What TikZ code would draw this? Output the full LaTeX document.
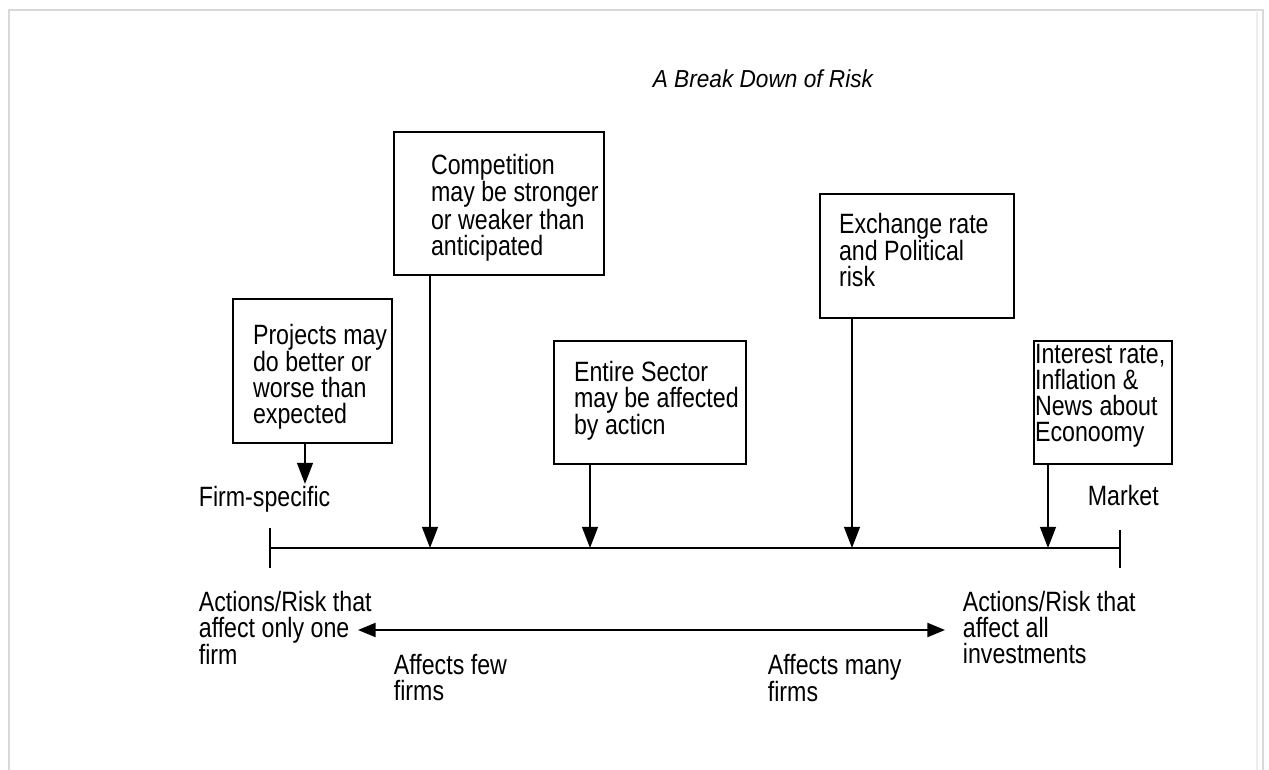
\documentclass[tikz,border=0pt]{standalone}
\usepackage{fontspec}
\setmainfont{Liberation Sans}[FakeStretch=0.83]
\newfontfamily\titlefont{Liberation Sans}[FakeStretch=0.92]
\usetikzlibrary{arrows.meta}

\begin{document}
\begin{tikzpicture}[x=0.02cm,y=-0.02cm,line width=1pt,
  riskbox/.style={draw,line width=1.2pt,anchor=north west,inner sep=0pt,align=left,
    font=\fontsize{15.9}{14.8}\selectfont,
    execute at begin node={\leftskip=#1\spaceskip=3.7pt plus 1pt\relax}},
  sidetext/.style={anchor=base west,inner sep=0pt,align=left,text width=4cm,
    font=\fontsize{15.9}{14.8}\selectfont,
    execute at begin node={\spaceskip=3.7pt plus 1pt\relax}},
  pointer/.style={-{Triangle[length=12pt,width=9pt]}},
  bothways/.style={{Triangle[length=10pt,width=8pt]}-{Triangle[length=10pt,width=8pt]}}]
\useasboundingbox (0,0) rectangle (1269,770);
% page frame
\draw[black!15,line width=1.5pt] (9,770) |- (1263,10) -- (1263,770);
\draw[black!7] (1257,12) -- (1257,770);

\node[anchor=base west,inner sep=0pt,font=\titlefont\itshape\fontsize{14}{16}\selectfont] (title) at (652,88) {A Break Down of Risk};

% the five sources of risk
\node[riskbox=0.4cm,text width=3.18cm,text height=0.9cm,text depth=1.98cm] (projects) at (232,298) {Projects may\\do better or\\worse than\\expected};
\node[riskbox=0.74cm,text width=4.2cm,text height=0.84cm,text depth=2.02cm] (competition) at (393,131) {Competition\\may be stronger\\or weaker than\\anticipated};
\node[riskbox=0.4cm,text width=3.84cm,text height=0.8cm,text depth=1.66cm] (sector) at (553,340) {Entire Sector\\may be affected\\by acticn};
\node[riskbox=0.38cm,text width=3.88cm,text height=0.78cm,text depth=1.7cm] (exchange) at (819,193) {Exchange rate\\and Political\\risk};
\node[riskbox=0.02cm,text width=2.76cm,text height=0.44cm,text depth=2.02cm] (interest) at (1033,340) {Interest rate,\\Inflation \&\\News about\\Econoomy};

% the scale
\coordinate (firmend) at (270,548);
\coordinate (marketend) at (1120,548);
\draw (firmend) -- (marketend);
\draw (firmend) ++(0,-20) -- ++(0,40);
\draw (marketend) ++(0,-18) -- ++(0,38);

\coordinate (firmtip) at (305,484);
\coordinate (hitcomp) at (430,548);
\coordinate (hitsector) at (590,548);
\coordinate (hitexchange) at (852,548);
\coordinate (hitinterest) at (1048,548);
\draw[pointer] (projects.south -| firmtip) -- (firmtip);
\draw[pointer] (competition.south -| hitcomp) -- (hitcomp);
\draw[pointer] (sector.south -| hitsector) -- (hitsector);
\draw[pointer] (exchange.south -| hitexchange) -- (hitexchange);
\draw[pointer] (interest.south -| hitinterest) -- (hitinterest);

\node[sidetext] (firm) at (198,506) {Firm-specific};
\node[sidetext] (market) at (1087,505) {Market};
\node[sidetext] (onefirm) at (198,611) {Actions/Risk that\\affect only one\\firm};
\node[sidetext] (allinv) at (962,611) {Actions/Risk that\\affect all\\investments};
\node[sidetext] (few) at (393,674) {Affects few\\firms};
\node[sidetext] (many) at (767,674) {Affects many\\firms};

\coordinate (fewside) at (358,630);
\coordinate (manyside) at (945,630);
\draw[bothways] (fewside) -- (manyside);
\end{tikzpicture}
\end{document}
